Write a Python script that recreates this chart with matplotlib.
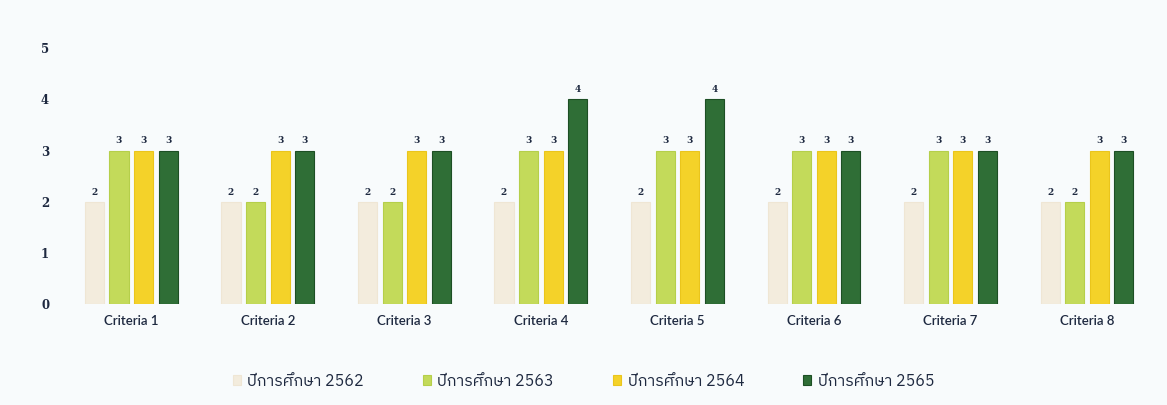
import matplotlib
matplotlib.use("Agg")
import matplotlib.pyplot as plt
from matplotlib import font_manager
from matplotlib.ft2font import FT2Font
import numpy as np

categories = ["Criteria 1", "Criteria 2", "Criteria 3", "Criteria 4",
              "Criteria 5", "Criteria 6", "Criteria 7", "Criteria 8"]
series_names = ["ปีการศึกษา 2562", "ปีการศึกษา 2563", "ปีการศึกษา 2564", "ปีการศึกษา 2565"]
v2562 = [2, 2, 2, 2, 2, 2, 2, 2]
v2563 = [3, 2, 2, 3, 3, 3, 3, 2]
v2564 = [3, 3, 3, 3, 3, 3, 3, 3]
v2565 = [3, 3, 3, 4, 4, 3, 3, 3]
yticks = [0, 1, 2, 3, 4, 5]

colors = ["#F3ECDD", "#C3DA5A", "#F4D229", "#2F6E36"]
edges = ["#EFE6D4", "#B5CF4A", "#EAC51C", "#1D4F24"]
text_color = "#1E2940"

# find a font with Thai glyphs
thai_family = None
for f in font_manager.fontManager.ttflist:
    try:
        cm = FT2Font(f.fname).get_charmap()
        if 0x0E1B in cm and 0x0E32 in cm:
            thai_family = f.name
            if "Sans" in f.name:
                break
    except Exception:
        pass
legend_families = ([thai_family] if thai_family else []) + ["DejaVu Sans"]

fig = plt.figure(figsize=(11.67, 4.05), dpi=100, facecolor="#F8FBFC")
ax = fig.add_axes([0.054, 0.249, 0.936, 0.632])
ax.set_facecolor("#F8FBFC")

data = [v2562, v2563, v2564, v2565]
x = np.arange(len(categories))
pitch = 0.18
width = 0.14
for i, (vals, c, e, name) in enumerate(zip(data, colors, edges, series_names)):
    pos = x + (i - 1.5) * pitch
    ax.bar(pos, vals, width, color=c, edgecolor=e, linewidth=0.8, label=name)
    for p, v in zip(pos, vals):
        ax.text(p, v + 0.1, str(v), ha="center", va="bottom", fontsize=6.5,
                fontweight="bold", family="DejaVu Serif", color=text_color)

ax.set_xlim(-0.5, len(categories) - 0.5)
ax.set_ylim(0, 5)
ax.set_yticks(yticks)
ax.set_yticklabels([str(t) for t in yticks], family="DejaVu Serif", fontweight="bold",
                   fontsize=8.5, color=text_color)
ax.set_xticks(x)
ax.set_xticklabels(categories, family="Lato", fontsize=9.5, fontweight="semibold",
                   color=text_color)
ax.tick_params(axis="both", length=0)
ax.tick_params(axis="y", pad=10)
ax.tick_params(axis="x", pad=8)
for s in ax.spines.values():
    s.set_visible(False)

fig.legend(loc="center", bbox_to_anchor=(0.5, 0.06), ncol=4, frameon=False,
           prop={"family": legend_families, "size": 11.5},
           handlelength=0.5, handleheight=0.5, handletextpad=0.4,
           columnspacing=3.7, labelcolor=text_color)

fig.savefig("out.png", dpi=100, facecolor=fig.get_facecolor())
